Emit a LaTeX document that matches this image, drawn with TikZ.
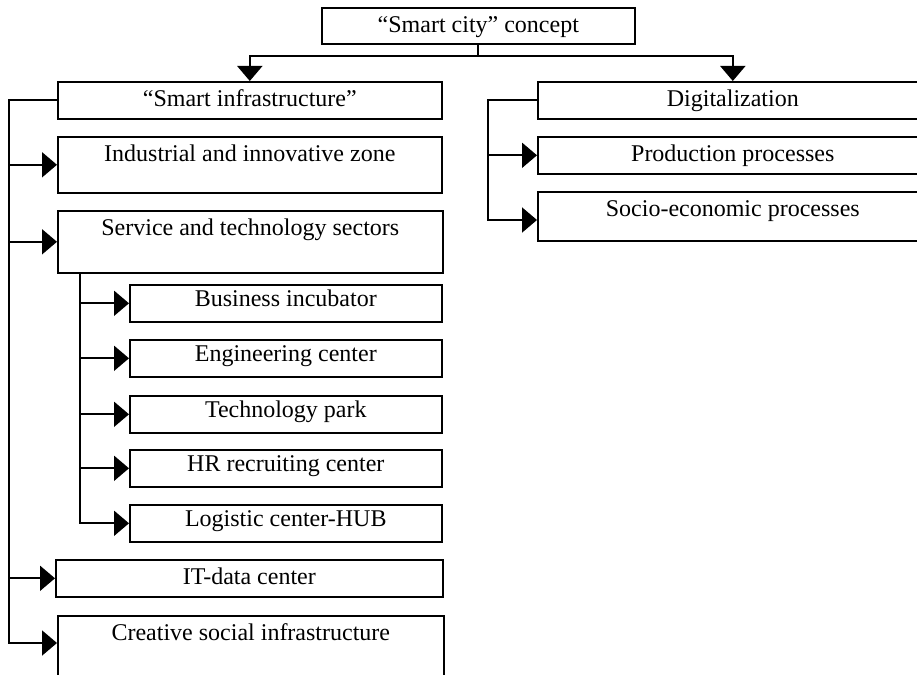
\documentclass[tikz,border=0pt]{standalone}
\usepackage{fontspec}
\setmainfont{Liberation Serif}
\usetikzlibrary{arrows.meta}
\begin{document}
\begin{tikzpicture}[x=1pt,y=1pt,
  bx/.style={draw, line width=1.6pt, inner sep=0pt, anchor=north west,
    font=\fontsize{24}{28}\selectfont, text height=25pt},
  sbx/.style={bx, text height=22pt},
  ln/.style={line width=1.9pt},
  arr/.style={ln, -{Triangle[length=15pt,width=25pt]}}]
\clip (0,0) rectangle (917,-674);
\useasboundingbox (0,0) rectangle (917,-674);
% boxes
\node[bx, minimum width=313pt, text depth=11pt] (top) at (321,-7) {“Smart city” concept};
\node[bx, minimum width=384pt, text depth=12pt] (si) at (57,-81) {“Smart infrastructure”};
\node[bx, minimum width=384pt, text depth=31pt] (ind) at (57,-136) {Industrial and innovative zone};
\node[bx, minimum width=385pt, text depth=37pt] (ser) at (57,-210) {Service and technology sectors};
\node[sbx, minimum width=312pt, text depth=15pt] (bi) at (129,-284) {Business incubator};
\node[sbx, minimum width=312pt, text depth=15pt] (ec) at (129,-339) {Engineering center};
\node[sbx, minimum width=312pt, text depth=15pt] (tp) at (129,-395) {Technology park};
\node[sbx, minimum width=312pt, text depth=15pt] (hr) at (129,-449) {HR recruiting center};
\node[sbx, minimum width=312pt, text depth=15pt] (lc) at (129,-504) {Logistic center-HUB};
\node[bx, minimum width=387pt, text depth=12pt] (it) at (55,-559) {IT-data center};
\node[bx, minimum width=386pt, text depth=49pt] (cre) at (57,-615) {Creative social infrastructure};
\node[bx, minimum width=390pt, text depth=12pt] (dig) at (537,-81) {Digitalization};
\node[bx, minimum width=390pt, text depth=12pt] (pro) at (537,-136) {Production processes};
\node[bx, minimum width=390pt, text depth=24pt] (soc) at (537,-191) {Socio-economic processes};
% top connectors
\draw[ln] (top.south) -- ++(0,-11) coordinate (j);
\draw[arr] (j) -| (si.north);
\draw[arr] (j) -| (dig.north);
% left trunk
\coordinate (cw) at ([yshift=-28pt]cre.north west);
\coordinate (L) at (9,0);
\draw[arr] (si.west) -| (L |- cw) -- (cw);
\draw[arr] (L |- ind.west) -- (ind.west);
\draw[arr] (L |- ser.west) -- (ser.west);
\draw[arr] (L |- it.west) -- (it.west);
% sub trunk
\coordinate (S) at (80,0);
\draw[arr] (S |- ser.south) |- (lc.west);
\draw[arr] (S |- bi.west) -- (bi.west);
\draw[arr] (S |- ec.west) -- (ec.west);
\draw[arr] (S |- tp.west) -- (tp.west);
\draw[arr] (S |- hr.west) -- (hr.west);
% right trunk
\coordinate (sw) at ([yshift=-29pt]soc.north west);
\coordinate (R) at (488,0);
\draw[arr] (dig.west) -| (R |- sw) -- (sw);
\draw[arr] (R |- pro.west) -- (pro.west);
\end{tikzpicture}
\end{document}
